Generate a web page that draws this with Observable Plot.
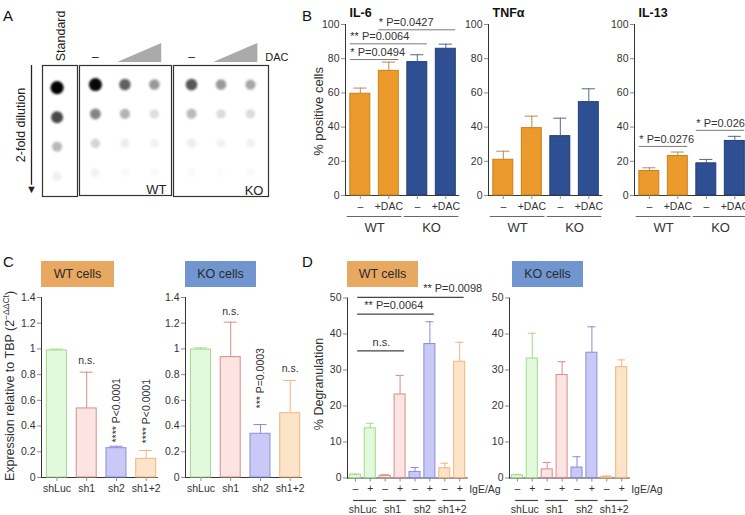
<!DOCTYPE html>
<html><head><meta charset="utf-8">
<script src="https://cdn.jsdelivr.net/npm/d3@7"></script>
<script src="https://cdn.jsdelivr.net/npm/@observablehq/plot@0.6"></script>
<style>
body{margin:0;background:#fff;}
#fig{position:relative;width:745px;height:515px;overflow:hidden;background:#fff;font-family:"Liberation Sans",Arial,Helvetica,sans-serif;color:#222;}
#fig svg{overflow:visible;background:transparent;}
.letter{position:absolute;font-size:15px;line-height:15px;color:#111;}
.hdr{position:absolute;height:26px;line-height:26px;text-align:center;font-size:12.5px;color:#2a2a2a;}
svg g[aria-label*="axis"] line, svg g[aria-label*="axis"] path{stroke:#8c8c8c;}
</style></head><body><div id="fig"></div>
<script>
// ---------------- DATA ----------------
// Panel A: dot-blot spot intensity (0 = blank, 1 = black); rows = 2-fold dilutions
const dilutionRows = [1, 2, 3, 4];
const standardIntensity = [1.0, 0.72, 0.28, 0.06];
const wtIntensity = [[0.97, 0.48, 0.16, 0.05], [0.62, 0.3, 0.07, 0.02], [0.4, 0.13, 0.05, 0.02]];
const koIntensity = [[0.66, 0.27, 0.07, 0.02], [0.4, 0.14, 0.05, 0.01], [0.34, 0.14, 0.05, 0.02]];

// Panel B
const treatments = ["–", "+DAC", "–", "+DAC"];
const genotypes = ["WT", "WT", "KO", "KO"];
const genotypeFill = {WT: "#ec9a2b", KO: "#2f4f93"};
const genotypeStroke = {WT: "#c9801e", KO: "#213d7a"};
const il6 = [59.5, 72.9, 78.0, 85.8];
const il6Upper = [62.8, 78.0, 82.3, 88.5];
const tnf = [20.9, 39.4, 34.7, 54.6];
const tnfUpper = [25.9, 46.4, 45.2, 62.4];
const il13 = [14.3, 23.1, 18.8, 31.9];
const il13Upper = [16.2, 25.4, 21.1, 34.6];
const il6Sig = [
  {from: 0, to: 1, y: 79.5, label: "* P=0.0494"},
  {from: 0, to: 2, y: 88.7, label: "** P=0.0064"},
  {from: 1, to: 3, y: 96.9, label: "* P=0.0427"}
];
const il13Sig = [
  {from: 0, to: 1, y: 28.7, label: "* P=0.0276"},
  {from: 2, to: 3, y: 38.1, label: "* P=0.026"}
];
const pctTicks = [0, 20, 40, 60, 80, 100];

// Panel C
const shRNAs = ["shLuc", "sh1", "sh2", "sh1+2"];
const shFill = {"shLuc": "#e3f9dc", "sh1": "#fbe4e2", "sh2": "#c9c9f7", "sh1+2": "#fde3c8"};
const shStroke = {"shLuc": "#9fdc8c", "sh1": "#d98c88", "sh2": "#8b8bd8", "sh1+2": "#f2b57c"};
const wtExpr = [0.988, 0.537, 0.228, 0.145];
const wtExprUpper = [0.998, 0.819, 0.243, 0.21];
const koExpr = [0.995, 0.936, 0.34, 0.50];
const koExprUpper = [1.008, 1.208, 0.412, 0.754];
const wtExprNotes = [
  {i: 1, y: 0.91, label: "n.s.", vertical: false},
  {i: 2, y: 0.272, label: "**** P<0.0001", vertical: true},
  {i: 3, y: 0.265, label: "**** P<0.0001", vertical: true}
];
const koExprNotes = [
  {i: 1, y: 1.293, label: "n.s.", vertical: false},
  {i: 2, y: 0.537, label: "*** P=0.0003", vertical: true},
  {i: 3, y: 0.85, label: "n.s.", vertical: false}
];
const exprTicks = [0, 0.2, 0.4, 0.6, 0.8, 1, 1.2, 1.4];

// Panel D
const stimulation = ["–", "+", "–", "+", "–", "+", "–", "+"];
const degranShRNA = ["shLuc", "shLuc", "sh1", "sh1", "sh2", "sh2", "sh1+2", "sh1+2"];
const wtDegran = [0.9, 13.8, 0.6, 23.2, 1.7, 37.2, 2.7, 32.3];
const wtDegranUpper = [1.1, 15.2, 0.9, 28.5, 2.9, 43.4, 4.1, 37.7];
const koDegran = [0.75, 33.2, 2.4, 28.6, 2.9, 34.8, 0.3, 30.8];
const koDegranUpper = [1.0, 40.2, 4.3, 32.3, 5.9, 42.0, 0.55, 32.8];
const wtDegranSig = [
  {from: 0, to: 3, y: 35.3, label: "n.s.", at: 1.75, anchor: "middle"},
  {from: 0, to: 5, y: 45.5, label: "** P=0.0064", at: 0.6, anchor: "start"},
  {from: 0, to: 7, y: 50.2, label: "** P=0.0098", at: 4.55, anchor: "start"}
];
const degranTicks = [0, 10, 20, 30, 40, 50];

// ---------------- HELPERS ----------------
const FONT = '"Liberation Sans", Arial, Helvetica, sans-serif';
const fig = document.getElementById("fig");
function place(node, left, top) {
  node.style.position = "absolute";
  node.style.left = left + "px";
  node.style.top = top + "px";
  fig.appendChild(node);
  return node;
}
function html(cls, text, left, top, extra = {}) {
  const d = document.createElement("div");
  d.className = cls; d.textContent = text;
  d.style.left = left + "px"; d.style.top = top + "px";
  Object.assign(d.style, extra);
  fig.appendChild(d);
}
function groupsOf(keys) {
  const out = [];
  keys.forEach((k, i) => {
    const last = out[out.length - 1];
    if (last && last.label === k) last.to = i; else out.push({label: k, from: i, to: i});
  });
  return out;
}
const fmtNum = d3.format("~g");

function barChart(o) {
  const rows = o.values.map((v, i) => ({i, v, top: o.tops[i], fill: o.fills[i], stroke: o.strokes[i], err: o.errs[i]}));
  const frameW = (o.xDomain[1] - o.xDomain[0]) * o.step;
  const width = o.ml + frameW + o.mr;
  const height = o.mt + o.frameH + o.mb;
  const svg = Plot.plot({
    width, height,
    marginLeft: o.ml, marginRight: o.mr, marginTop: o.mt, marginBottom: o.mb,
    style: {fontFamily: FONT, fontSize: "10.5px", color: "#333", background: "transparent", overflow: "visible"},
    x: {domain: o.xDomain, ticks: rows.map(d => d.i), tickFormat: i => o.tickLabels[i], tickSize: 4, tickPadding: 3, line: true, label: null},
    y: {domain: o.yDomain, ticks: o.yTicks, tickFormat: fmtNum, tickSize: 4, tickPadding: 2, line: true, label: null},
    color: {type: "identity"},
    marks: [
      Plot.rectY(rows, {x1: d => d.i - o.barHalf, x2: d => d.i + o.barHalf, y1: 0, y2: "v", fill: "fill", stroke: "stroke", strokeWidth: 1}),
      Plot.ruleX(rows, {x: "i", y1: "v", y2: "top", stroke: "err", strokeWidth: 1}),
      Plot.ruleY(rows, {x1: d => d.i - o.capHalf, x2: d => d.i + o.capHalf, y: "top", stroke: "err", strokeWidth: 1}),
      ...(o.marks || [])
    ]
  });
  return place(svg, o.left, o.top);
}

// ---------------- PANEL A ----------------
function blot(o) {
  const svg = Plot.plot({
    width: o.ml + o.frameW + o.mr, height: 200,
    marginLeft: o.ml, marginRight: o.mr, marginTop: 65, marginBottom: o.mb,
    style: {fontFamily: FONT, fontSize: "12px", color: "#222", background: "transparent", overflow: "visible"},
    x: {domain: o.xDomain, axis: null},
    y: {domain: o.yDomain, reverse: true, axis: null},
    color: {type: "linear", domain: [0, 1], range: ["#ffffff", "#000000"]},
    r: {type: "linear", domain: [0, 1], range: [4.4, 6.6]},
    marks: [
      Plot.dot(o.spots, {x: "lane", y: "row", r: "v", fill: "v"}),
      Plot.frame({stroke: "#333", strokeWidth: 1.2}),
      ...(o.marks || [])
    ]
  });
  d3.select(svg).selectAll("circle").style("filter", "blur(0.9px)");
  return place(svg, o.left, 0);
}
const spotsOf = (cols) => cols.flatMap((col, c) => col.map((v, r) => ({lane: c + 1, row: dilutionRows[r], v})));
const wedge = (ytop, ybot) => Plot.areaY([{lane: 1.75, t: ybot}, {lane: 3.25, t: ytop}], {x: "lane", y1: ybot, y2: "t", fill: "#aaaaaa", curve: "linear"});

blot({
  left: 0, ml: 42, mr: 5, frameW: 35, mb: 4,
  xDomain: [0.5, 1.7], yDomain: [0.25, 4.68],
  spots: spotsOf([standardIntensity]),
  marks: [
    Plot.text(["Standard"], {x: 1.15, y: -0.75, rotate: -90, fontSize: 12.5, textAnchor: "middle", lineAnchor: "middle"}),
    Plot.ruleX([0.5], {dx: -11, y1: 0.25, y2: 4.3, stroke: "#222", strokeWidth: 1.3}),
    Plot.text(["▼"], {x: 0.5, y: 4.45, dx: -11, fontSize: 11, lineAnchor: "middle"}),
    Plot.text(["2-fold dilution"], {frameAnchor: "left", dx: -22, dy: -6, rotate: -90, fontSize: 12.5, textAnchor: "middle", lineAnchor: "middle"})
  ]
});
blot({
  left: 70, ml: 9, mr: 6, frameW: 92, mb: 5,
  xDomain: [0.46, 3.58], yDomain: [0.35, 4.78],
  spots: spotsOf(wtIntensity),
  marks: [
    Plot.text(["–"], {x: 1, y: 0.08, fontSize: 12, lineAnchor: "middle"}),
    wedge(-0.4, 0.25),
    Plot.text(["WT"], {frameAnchor: "bottom-right", dx: -5, dy: -2, fontSize: 13})
  ]
});
blot({
  left: 165, ml: 8, mr: 30, frameW: 95, mb: 4,
  xDomain: [0.39, 3.61], yDomain: [0.35, 4.82],
  spots: spotsOf(koIntensity),
  marks: [
    Plot.text(["–"], {x: 1, y: 0.08, fontSize: 12, lineAnchor: "middle"}),
    wedge(-0.4, 0.25),
    Plot.text(["DAC"], {x: 3.5, y: 0.08, fontSize: 11, textAnchor: "start", lineAnchor: "middle"}),
    Plot.text(["KO"], {frameAnchor: "bottom-right", dx: -5, dy: -2, fontSize: 13})
  ]
});

// ---------------- PANEL B ----------------
const bGroups = groupsOf(genotypes);
const bCommon = {
  top: 0, mt: 24, frameH: 171, mb: 45, mr: 12,
  xDomain: [-0.52, 3.456], step: 28.5, barHalf: 0.35, capHalf: 0.23,
  yDomain: [0, 100], yTicks: pctTicks, tickLabels: treatments,
  fills: genotypes.map(g => genotypeFill[g]),
  strokes: genotypes.map(g => genotypeStroke[g]),
  errs: genotypes.map(g => g === "WT" ? "#b98a55" : "#55668f")
};
const bGroupMarks = () => [
  Plot.ruleY(bGroups, {x1: d => d.from - 0.46, x2: d => d.to + 0.46, y: 0, dy: 21, stroke: "#666"}),
  Plot.text(bGroups, {x: d => (d.from + d.to) / 2, text: "label", frameAnchor: "bottom", dy: 32.5, lineAnchor: "middle", fontSize: 13})
];
const sigMarks = (sig) => [
  Plot.ruleY(sig, {x1: d => d.from - 0.35, x2: d => d.to + 0.35, y: "y", stroke: "#7a7a7a"}),
  Plot.text(sig, {x: d => d.from - 0.35, y: "y", text: "label", textAnchor: "start", lineAnchor: "middle", dy: -7, fontSize: 11})
];
const title = (t) => Plot.text([t], {frameAnchor: "top-left", dx: 4, dy: -11, lineAnchor: "middle", fontWeight: "bold", fontSize: 12.5, fill: "#111"});

barChart({...bCommon, left: 290, ml: 55, values: il6, tops: il6Upper,
  marks: [title("IL-6"), ...bGroupMarks(), ...sigMarks(il6Sig),
    Plot.text(["% positive cells"], {frameAnchor: "left", dx: -27, dy: 1.5, rotate: -90, textAnchor: "middle", lineAnchor: "middle", fontSize: 13})]});
barChart({...bCommon, left: 460, ml: 28, values: tnf, tops: tnfUpper,
  marks: [title("TNFα"), ...bGroupMarks()]});
barChart({...bCommon, left: 605, ml: 29, values: il13, tops: il13Upper,
  marks: [title("IL-13"), ...bGroupMarks(), ...sigMarks(il13Sig)]});

// ---------------- PANEL C ----------------
const noteMarks = (notes) => [
  Plot.text(notes.filter(d => !d.vertical), {x: "i", y: "y", text: "label", textAnchor: "middle", lineAnchor: "middle", fontSize: 10.5}),
  Plot.text(notes.filter(d => d.vertical), {x: "i", y: "y", text: "label", rotate: -90, textAnchor: "start", lineAnchor: "middle", fontSize: 10.5})
];
const cCommon = {
  top: 290, mt: 7, frameH: 180, mb: 30, mr: 6,
  xDomain: [-0.52, 3.37], step: 29.75, barHalf: 0.336, capHalf: 0.22,
  yDomain: [0, 1.4], yTicks: exprTicks, tickLabels: shRNAs,
  fills: shRNAs.map(s => shFill[s]), strokes: shRNAs.map(s => shStroke[s]), errs: shRNAs.map(s => shStroke[s])
};
const cLeft = barChart({...cCommon, left: 0, ml: 41, values: wtExpr, tops: wtExprUpper, marks: noteMarks(wtExprNotes)});
barChart({...cCommon, left: 150, ml: 35, values: koExpr, tops: koExprUpper, marks: noteMarks(koExprNotes)});
{
  const t = d3.select(cLeft).append("text")
    .attr("transform", "translate(10,96) rotate(-90)")
    .attr("text-anchor", "middle").attr("dy", "0.35em")
    .attr("font-size", 12.5).attr("fill", "#333").attr("font-family", FONT);
  t.append("tspan").text("Expression relative to TBP (2");
  t.append("tspan").attr("baseline-shift", "super").attr("font-size", 8.5).text("−ΔΔCt");
  t.append("tspan").text(")");
}

// ---------------- PANEL D ----------------
const dGroups = groupsOf(degranShRNA);
const dCommon = {
  top: 290, mt: 7.5, frameH: 180, mb: 37.5, mr: 40,
  xDomain: [-0.53, 7.5], step: 14.9, barHalf: 0.37, capHalf: 0.27,
  yDomain: [0, 50], yTicks: degranTicks, tickLabels: stimulation,
  fills: degranShRNA.map(s => shFill[s]), strokes: degranShRNA.map(s => shStroke[s]), errs: degranShRNA.map(s => shStroke[s])
};
const dGroupMarks = () => [
  Plot.ruleY(dGroups, {x1: d => d.from - 0.12, x2: d => d.to + 0.42, y: 0, dy: 22.5, stroke: "#444", strokeWidth: 1.2}),
  Plot.text(dGroups, {x: d => (d.from + d.to) / 2, text: "label", frameAnchor: "bottom", dy: 31.5, lineAnchor: "middle", fontSize: 10.5}),
  Plot.text(["IgE/Ag"], {x: stimulation.length - 1, dx: 9.5, frameAnchor: "bottom", dy: 11.5, textAnchor: "start", lineAnchor: "middle", fontSize: 10.5})
];
barChart({...dCommon, left: 290, ml: 57, values: wtDegran, tops: wtDegranUpper,
  marks: [...dGroupMarks(),
    Plot.ruleY(wtDegranSig, {x1: d => d.from + 0.15, x2: d => d.to + 0.3, y: "y", stroke: "#444", strokeWidth: 1.2}),
    Plot.text(wtDegranSig.filter(d => d.anchor === "middle"), {x: "at", y: "y", text: "label", textAnchor: "middle", lineAnchor: "middle", dy: -8, fontSize: 11}),
    Plot.text(wtDegranSig.filter(d => d.anchor === "start"), {x: "at", y: "y", text: "label", textAnchor: "start", lineAnchor: "middle", dy: -8.5, fontSize: 11}),
    Plot.text(["% Degranulation"], {frameAnchor: "left", dx: -29, dy: -4, rotate: -90, textAnchor: "middle", lineAnchor: "middle", fontSize: 12.5})]});
barChart({...dCommon, left: 480, ml: 29, values: koDegran, tops: koDegranUpper, marks: dGroupMarks()});

// ---------------- LETTERS & HEADERS ----------------
html("letter", "A", 3, 8);
html("letter", "B", 302, 8);
html("letter", "C", 3, 254);
html("letter", "D", 302, 254);
html("hdr", "WT cells", 41, 261, {width: "73px", background: "#e8a862"});
html("hdr", "KO cells", 185, 261, {width: "71px", background: "#7196cf"});
html("hdr", "WT cells", 347, 261, {width: "71px", background: "#e8a862"});
html("hdr", "KO cells", 512, 261, {width: "71px", background: "#7196cf"});
</script></body></html>
